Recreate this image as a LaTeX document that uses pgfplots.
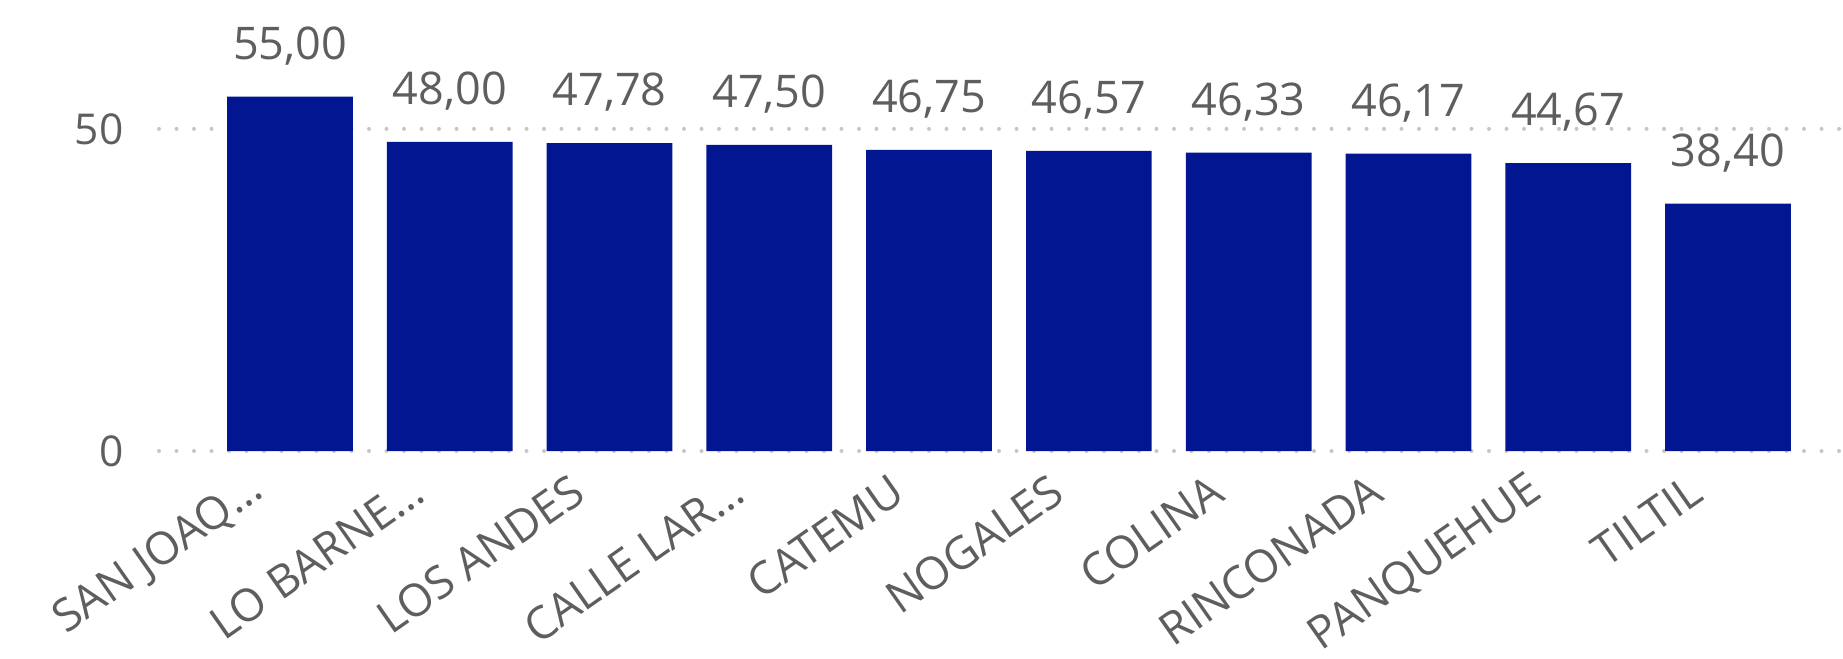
\documentclass[border=0pt]{standalone}
\usepackage{fontspec}
\setmainfont{Open Sans}
\usepackage{pgfplots}
\pgfplotsset{compat=1.18}
\definecolor{barblue}{RGB}{3,22,145}
\definecolor{txtgray}{RGB}{96,94,92}
\definecolor{gridgray}{RGB}{200,198,196}
\begin{document}
\begin{tikzpicture}
\begin{axis}[
    at={(63.6pt,82.8pt)}, anchor=south west,
    scale only axis,
    width=673.6pt, height=180.4pt,
    xmin=-0.82, xmax=9.72,
    ymin=0, ymax=70,
    ybar, bar width=0.787,
    axis line style={draw=none},
    major tick length=0pt,
    xtick={0,...,9},
    xticklabels={SAN JOAQ…, LO BARNE…, LOS ANDES, CALLE LAR…, CATEMU, NOGALES, COLINA, RINCONADA, PANQUEHUE, TILTIL},
    ytick={0,50},
    ymajorgrids,
    major grid style={gridgray, line width=1.6pt, line cap=round, dash pattern=on 0pt off 7pt},
    /pgf/number format/assume math mode=true,
    tick label style={font=\fontsize{17}{20}\selectfont, text=txtgray},
    yticklabel style={anchor=east, inner sep=0pt, xshift=-14pt},
    xticklabel style={font=\fontsize{18}{21}\selectfont, inner sep=0pt, xshift=-12.4pt, yshift=-13.8pt, rotate=35, anchor=east},
    nodes near coords,
    nodes near coords style={font=\fontsize{18}{21}\selectfont, text=txtgray, anchor=base, inner sep=0pt, yshift=15pt,
        /pgf/number format/.cd, fixed, fixed zerofill, precision=2, use comma, assume math mode=true},
    clip=false,
]
\addplot [fill=barblue, draw=none] coordinates {
    (0,55.00) (1,48.00) (2,47.78) (3,47.50) (4,46.75)
    (5,46.57) (6,46.33) (7,46.17) (8,44.67) (9,38.40)
};
\end{axis}
\pgfresetboundingbox
\path[use as bounding box] (0,0) rectangle (737.2pt,263.2pt);
\end{tikzpicture}
\end{document}
